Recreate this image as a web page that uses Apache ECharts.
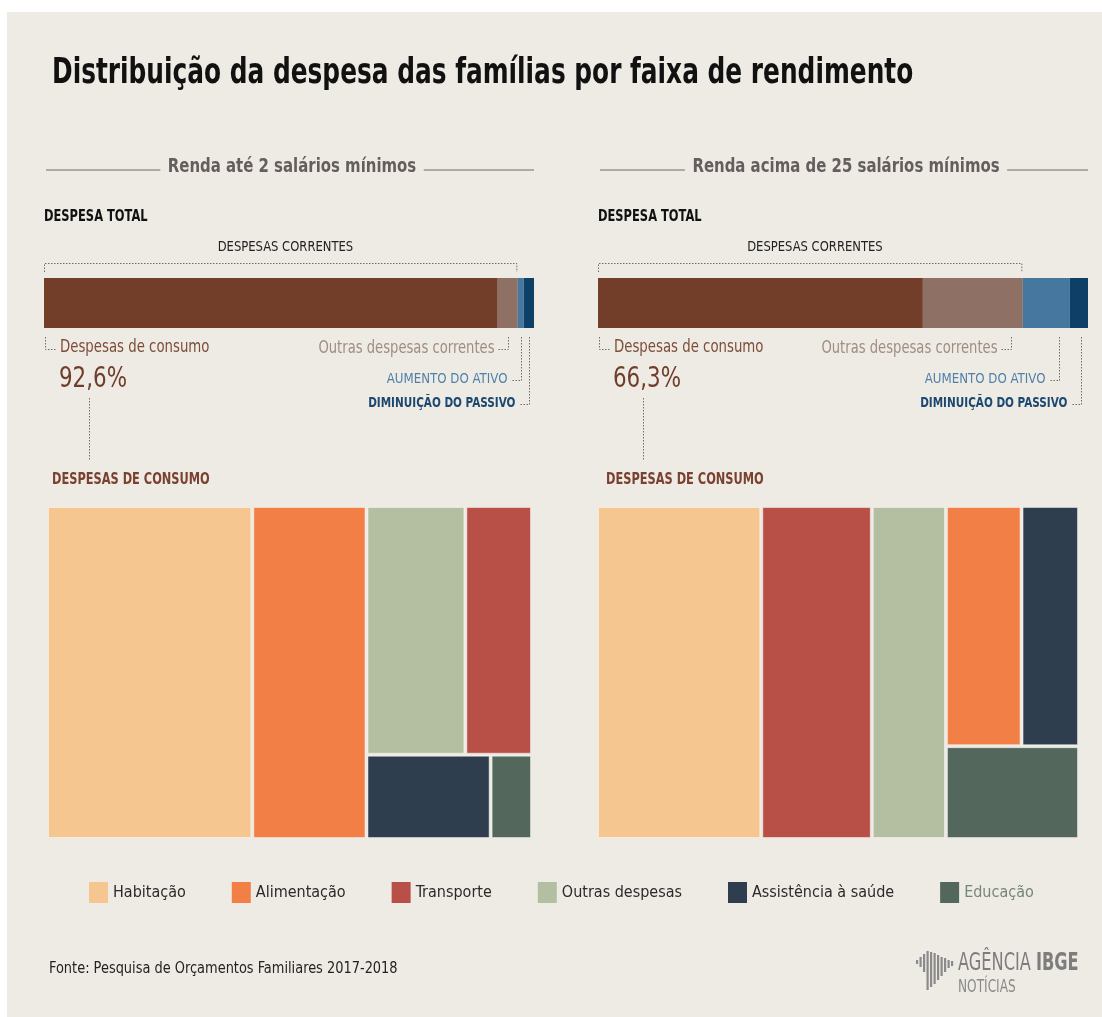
<!DOCTYPE html>
<html>
<head>
<meta charset="utf-8">
<script src="https://cdn.jsdelivr.net/npm/echarts@6/dist/echarts.min.js"></script>
<style>
  html, body { margin: 0; padding: 0; background: #fff; }
  #chart { width: 1102px; height: 1017px; }
</style>
</head>
<body>
<div id="chart"></div>
<script>
const FONT = '"DejaVu Sans Condensed", "Liberation Sans Narrow", sans-serif'

// dados (POF 2017-2018), % da despesa total
const panelTitles = ['Renda até 2 salários mínimos', 'Renda acima de 25 salários mínimos']
const totalParts = ['Despesas de consumo', 'Outras despesas correntes', 'Aumento do ativo', 'Diminuição do passivo']
const totalLow = [92.6, 4.1, 1.2, 2.1]
const totalHigh = [66.3, 20.4, 9.6, 3.7]
const categories = ['Habitação', 'Alimentação', 'Transporte', 'Outras despesas', 'Assistência à saúde', 'Educação']
const consumoLow = [39.2, 21.8, 9.5, 14.1, 6.0, 2.0]
const consumoHigh = [22.6, 7.5, 15.2, 10.2, 5.7, 5.1]
// arranjo do treemap: colunas da esquerda p/ direita, a ultima dividida em linhas
const arrangeLow = [[0], [1], [[3, 2], [4, 5]]]
const arrangeHigh = [[0], [2], [3], [[1, 4], [5]]]

const partColors = ['#723e2a', '#8e7065', '#46789f', '#0e3f67']
const catColors = ['#f5c68f', '#f27f45', '#b95048', '#b3bfa0', '#2e3e4f', '#53675d']
const BG = '#eeebe4'

const chart = echarts.init(document.getElementById('chart'))

function sum(arr) { return arr.reduce((a, b) => a + b, 0) }

// calcula as celulas (x0, x1, y0, y1) em unidades do valor
function layoutCells(values, arrange) {
  const cells = []
  let x = 0
  arrange.forEach(col => {
    const rows = Array.isArray(col[0]) ? col : [col]
    const colSum = sum(rows.flat().map(i => values[i]))
    let y = 0
    rows.forEach(row => {
      const rowSum = sum(row.map(i => values[i]))
      const h = rowSum / colSum * 100
      let xx = x
      row.forEach(i => {
        const w = values[i] / rowSum * colSum
        cells[i] = [xx, xx + w, y, y + h]
        xx += w
      })
      y += h
    })
    x += colSum
  })
  return cells
}

function renderCell(params, api) {
  const p0 = api.coord([api.value(0), api.value(2)])
  const p1 = api.coord([api.value(1), api.value(3)])
  const g = 1.5
  return {
    type: 'rect',
    shape: {
      x: Math.min(p0[0], p1[0]) + g,
      y: Math.min(p0[1], p1[1]) + g,
      width: Math.abs(p1[0] - p0[0]) - 2 * g,
      height: Math.abs(p1[1] - p0[1]) - 2 * g
    },
    style: { fill: api.visual('color'), stroke: 'rgba(255,255,255,0.45)', lineWidth: 1 }
  }
}

const totals = [totalLow, totalHigh]
const consumos = [consumoLow, consumoHigh]
const arranges = [arrangeLow, arrangeHigh]

const series = []
totals.forEach((vals, p) => {
  vals.forEach((v, i) => {
    series.push({
      type: 'bar',
      name: totalParts[i],
      stack: 'total' + p,
      xAxisIndex: p,
      yAxisIndex: p,
      barWidth: 50,
      data: [v],
      itemStyle: { color: partColors[i] },
      silent: true
    })
  })
})
consumos.forEach((vals, p) => {
  const cells = layoutCells(vals, arranges[p])
  categories.forEach((c, i) => {
    series.push({
      type: 'custom',
      name: c,
      xAxisIndex: 2 + p,
      yAxisIndex: 2 + p,
      renderItem: renderCell,
      data: [cells[i]],
      itemStyle: { color: catColors[i] },
      silent: true
    })
  })
})

const hidden = { show: false }
const option = {
  backgroundColor: '#fff',
  animation: false,
  legend: {
    data: categories.map((c, i) => i === 5 ? { name: c, textStyle: { color: '#74857b' } } : c),
    left: 84,
    top: 877,
    icon: 'rect',
    itemWidth: 19,
    itemHeight: 21,
    itemGap: 46,
    selectedMode: false,
    textStyle: { fontFamily: FONT, fontSize: 16, color: '#2a2a2a' }
  },
  grid: [
    { left: 44, top: 278, width: 490, height: 50 },
    { left: 598, top: 278, width: 490, height: 50 },
    { left: 47, top: 506, width: 485, height: 333 },
    { left: 597, top: 506, width: 482, height: 333 }
  ],
  xAxis: [
    { type: 'value', gridIndex: 0, min: 0, max: 100, ...hidden },
    { type: 'value', gridIndex: 1, min: 0, max: 100, ...hidden },
    { type: 'value', gridIndex: 2, min: 0, max: sum(consumoLow), ...hidden },
    { type: 'value', gridIndex: 3, min: 0, max: sum(consumoHigh), ...hidden }
  ],
  yAxis: [
    { type: 'category', gridIndex: 0, data: ['total'], ...hidden },
    { type: 'category', gridIndex: 1, data: ['total'], ...hidden },
    { type: 'value', gridIndex: 2, min: 0, max: 100, inverse: true, ...hidden },
    { type: 'value', gridIndex: 3, min: 0, max: 100, inverse: true, ...hidden }
  ],
  series: series
}
chart.setOption(option)

// textos e linhas pontilhadas
const dot = { stroke: '#6d6d6d', lineWidth: 1, lineDash: [1.5, 1.5], fill: null }
function txt(x, y, text, font, fill, align, sx, extra) {
  return { type: 'text', x: x, y: y, scaleX: sx || 1, silent: true, z: 10,
    style: Object.assign({ text: text, font: font, fill: fill, align: align || 'left', verticalAlign: 'middle' }, extra || {}) }
}
function poly(points) {
  return { type: 'polyline', silent: true, z: 9, shape: { points: points }, style: dot }
}

const graphic = [
  { type: 'rect', silent: true, z: -10, shape: { x: 7, y: 12, width: 1095, height: 1005 }, style: { fill: BG } },
  txt(52, 74, 'Distribuição da despesa das famílias por faixa de rendimento', 'bold 36px ' + FONT, '#111', 'left', 0.767)
]

totals.forEach((vals, p) => {
  const px = v => chart.convertToPixel({ xAxisIndex: p }, v)
  const cum = [0]
  vals.forEach(v => cum.push(cum[cum.length - 1] + v))
  const L = px(0), R = px(100)
  const mid = (L + R) / 2

  // cabecalho do painel
  graphic.push({ type: 'line', silent: true, shape: { x1: L + 2, y1: 170, x2: R, y2: 170 }, style: { stroke: '#9a9592', lineWidth: 1.5 } })
  graphic.push(txt(mid + 3, 167, panelTitles[p], 'bold 20px ' + FONT, '#655d5e', 'center', 0.83, { backgroundColor: BG, padding: [0, 9] }))
  graphic.push(txt(L, 217, 'DESPESA TOTAL', 'bold 15px ' + FONT, '#111', 'left', 0.85))

  // despesas correntes
  const endCorr = px(cum[2]) - 1
  graphic.push(poly([[L + 0.5, 272], [L + 0.5, 263.5], [endCorr, 263.5], [endCorr, 272]]))
  graphic.push(txt((L + endCorr) / 2 + 5, 247, 'DESPESAS CORRENTES', '14px ' + FONT, '#222', 'center', 0.92))

  // consumo
  graphic.push(poly([[L + 1.5, 337], [L + 1.5, 349.5], [L + 12, 349.5]]))
  graphic.push(txt(L + 16, 348, 'Despesas de consumo', '17px ' + FONT, '#7d4d39', 'left', 0.87))
  graphic.push(txt(L + 15, 380, vals[0].toFixed(1).replace('.', ',') + '%', '28px ' + FONT, '#6f3d2a', 'left', 0.85))
  graphic.push(poly([[L + 45.5, 398], [L + 45.5, 460]]))
  graphic.push(txt(L + 8, 480, 'DESPESAS DE CONSUMO', 'bold 16px ' + FONT, '#7a4130', 'left', 0.79))

  // outras / ativo / passivo
  const labels = [
    { i: 1, y: 349.5, text: 'Outras despesas correntes', font: '17px ' + FONT, fill: '#a08c83', off: 12, sx: 0.86 },
    { i: 2, y: 380.5, text: 'AUMENTO DO ATIVO', font: '14px ' + FONT, fill: '#4f81aa', off: 11, sx: 0.94 },
    { i: 3, y: 404.5, text: 'DIMINUIÇÃO DO PASSIVO', font: 'bold 14px ' + FONT, fill: '#1b4870', off: 7, sx: 0.83 }
  ]
  labels.forEach(l => {
    const a = px(cum[l.i]), b = px(cum[l.i + 1])
    const cx = Math.round(Math.max((a + b) / 2, b - l.off)) + 0.5
    graphic.push(poly([[cx, 337], [cx, l.y], [cx - 10, l.y]]))
    graphic.push(txt(cx - 14, l.y - 1, l.text, l.font, l.fill, 'right', l.sx))
  })
})

// rodape
graphic.push(txt(49, 969, 'Fonte: Pesquisa de Orçamentos Familiares 2017-2018', '16px ' + FONT, '#222', 'left', 0.9))
// logo
const logoBars = [[0, 960, 964], [3.5, 957, 967], [7, 954, 972], [10.5, 951, 990], [14, 952, 987], [17.5, 953, 984], [21, 955, 980], [24.5, 957, 976], [28, 958, 972], [31.5, 960, 968], [35, 961, 966]]
logoBars.forEach(b => {
  graphic.push({ type: 'rect', silent: true, shape: { x: 916 + b[0], y: b[1], width: 2.2, height: b[2] - b[1] }, style: { fill: '#8a8a8a' } })
})
graphic.push({ type: 'text', silent: true, x: 958, y: 963, scaleX: 0.72, style: {
  text: '{a|AGÊNCIA }{b|IBGE}', verticalAlign: 'middle',
  rich: { a: { font: '25px ' + FONT, fill: '#7d7d7d' }, b: { font: 'bold 25px ' + FONT, fill: '#7d7d7d' } } } })
graphic.push(txt(958, 987, 'NOTÍCIAS', '18px ' + FONT, '#8a8a8a', 'left', 0.75))

chart.setOption({ graphic: graphic })
</script>
</body>
</html>
